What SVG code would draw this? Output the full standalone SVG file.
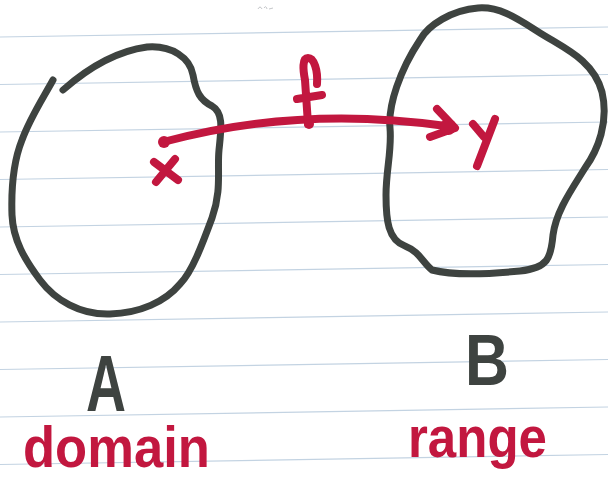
<svg xmlns="http://www.w3.org/2000/svg" width="608" height="485" viewBox="0 0 608 485">
  <defs>
    <style>
      .rule { stroke: #c3d3e2; stroke-width: 1.2; fill: none; }
      .ink { fill: none; stroke: #3e4340; stroke-width: 7; stroke-linecap: round; stroke-linejoin: round; }
      .red { fill: none; stroke: #c2173f; stroke-width: 8; stroke-linecap: round; stroke-linejoin: round; }
      .redfill { fill: #c2173f; }
      .lbl { font-family: "Liberation Sans", Arial, sans-serif; font-weight: bold; }
      .dark { fill: #3e4340; }
      .crim { fill: #c2173f; }
    </style>
  </defs>
  <rect x="0" y="0" width="608" height="485" fill="#ffffff"/>
  <g id="paper">
    <line class="rule" x1="0" y1="37" x2="608" y2="27"/>
    <line class="rule" x1="0" y1="84.5" x2="608" y2="74.5"/>
    <line class="rule" x1="0" y1="132" x2="608" y2="122"/>
    <line class="rule" x1="0" y1="179.5" x2="608" y2="169.5"/>
    <line class="rule" x1="0" y1="227" x2="608" y2="217"/>
    <line class="rule" x1="0" y1="274.5" x2="608" y2="264.5"/>
    <line class="rule" x1="0" y1="322" x2="608" y2="312"/>
    <line class="rule" x1="0" y1="369.5" x2="608" y2="359.5"/>
    <line class="rule" x1="0" y1="417" x2="608" y2="407"/>
    <line class="rule" x1="0" y1="464.5" x2="608" y2="454.5"/>
    <path d="M258,9 q2,-4 4,0 M264,8 q2,-3 3,1 M269,9 l4,-1" fill="none" stroke="#b5b8bb" stroke-width="0.8"/>
  </g>
  <g id="setA">
    <path class="ink" d="M63,90 C80,75 110,52 147,47 C172,45 190,58 193,75 C196,92 200,100 212,106 C224,113 221,130 219,150 C217,170 222,190 212,218 C202,245 192,272 180,284 C165,302 140,313 110,314 C80,315 55,300 40,280 C25,260 13,240 12,215 C11,185 14,160 22,140 C30,118 42,100 53,80"/>
  </g>
  <g id="setB">
    <path class="ink" d="M420,40 C428,25 452,10 478,8 C502,6 522,22 545,36 C568,50 594,62 602,92 C609,122 598,150 585,168 C570,192 556,212 553,235 C551,258 548,268 520,271 C490,274 455,276 432,270 C422,262 420,252 405,246 C388,240 386,220 386,195 C386,170 392,150 390,128 C388,105 400,70 420,40"/>
  </g>
  <g id="pointX">
    <path class="red" stroke-width="6" d="M154,162 L178,180 M175,159 L156,182"/>
  </g>
  <g id="pointY">
    <path class="red" stroke-width="6" d="M473,124 L484,137 M495,119 L477,166"/>
  </g>
  <g id="connectors">
    <path class="red" d="M163,142 Q300,105 446,126"/>
    <circle class="redfill" cx="164" cy="142" r="6"/>
    <path class="red" d="M437,109 L455,128 L430,137"/>
    <circle class="redfill" cx="448" cy="127" r="8"/>
    <path class="red" stroke-width="7" d="M317,84 C318,70 314,58 308,58 C302,58 303,70 305,80 L308,124 M297,99 L322,95"/>
    <circle class="redfill" cx="309" cy="124" r="5"/>
  </g>
  <g id="labelA">
    <text class="lbl dark" x="106" y="411" font-size="80" text-anchor="middle" textLength="40" lengthAdjust="spacingAndGlyphs">A</text>
    <text class="lbl crim" x="23" y="467" font-size="58" textLength="187" lengthAdjust="spacingAndGlyphs">domain</text>
  </g>
  <g id="labelB">
    <text class="lbl dark" x="465" y="385" font-size="72" textLength="44" lengthAdjust="spacingAndGlyphs">B</text>
    <text class="lbl crim" x="408" y="457" font-size="58" textLength="139" lengthAdjust="spacingAndGlyphs">range</text>
  </g>
</svg>
